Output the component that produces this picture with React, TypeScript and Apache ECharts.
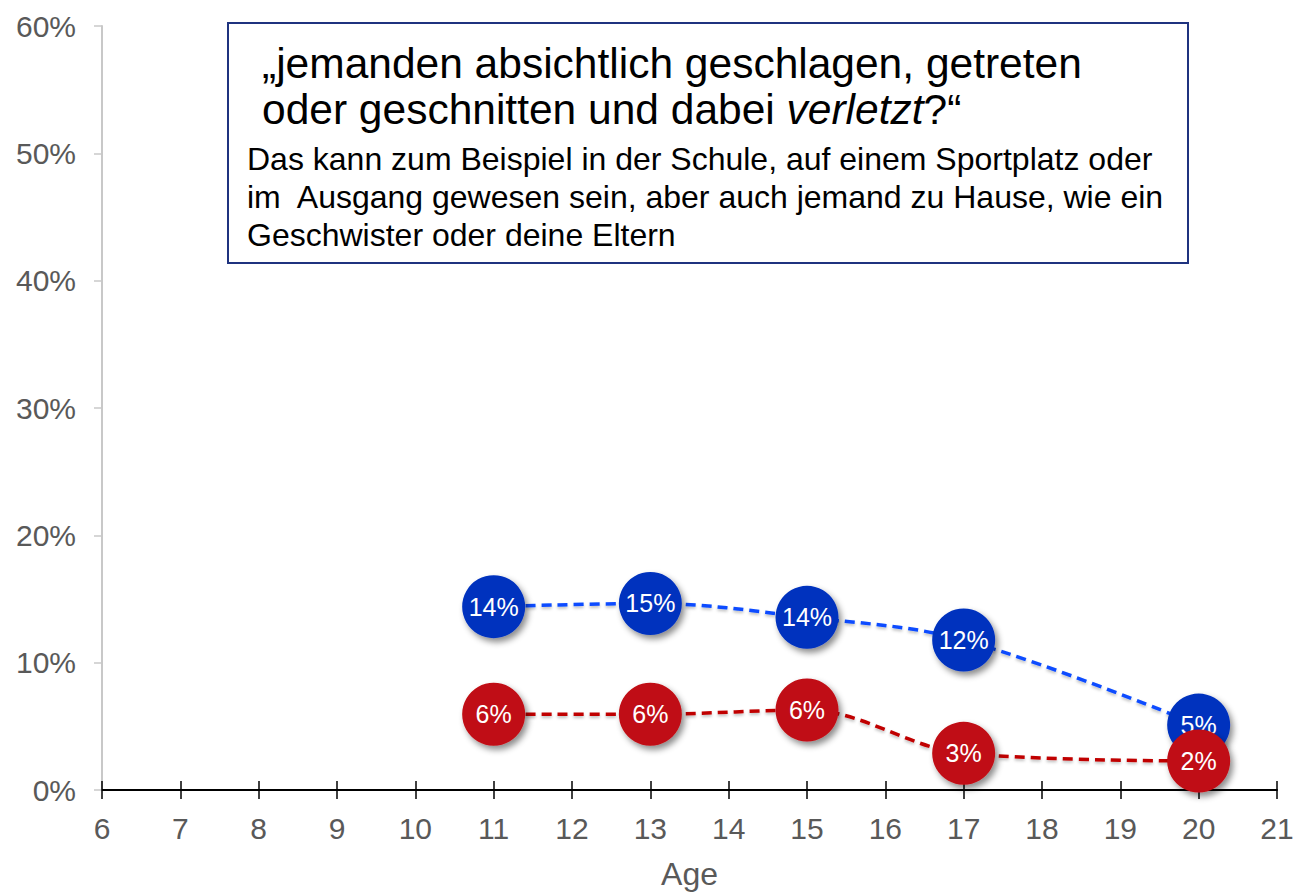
import React, { useEffect, useRef } from "react";
import * as echarts from "echarts";

const ages = [11, 13, 15, 17, 20];
const blueValues = [14.4, 14.65, 13.56, 11.78, 5.1];
const redValues = [5.95, 5.95, 6.28, 2.88, 2.28];
const yTicks = [0, 10, 20, 30, 40, 50, 60];
const titleLine1 = "„jemanden absichtlich geschlagen, getreten";
const titleLine2a = "oder geschnitten und dabei ";
const titleLine2b = "verletzt";
const titleLine2c = "?“";
const bodyLines = [
  "Das kann zum Beispiel in der Schule, auf einem Sportplatz oder",
  "im  Ausgang gewesen sein, aber auch jemand zu Hause, wie ein",
  "Geschwister oder deine Eltern",
];

const FONT = "Liberation Sans, Arial, sans-serif";

export default function App() {
  const ref = useRef<HTMLDivElement>(null);
  useEffect(() => {
    if (!ref.current) return;
    const chart = echarts.init(ref.current, undefined, { renderer: "svg" });
    const mk = (vals: number[]) => ages.map((a, i) => [a, vals[i]]);
    const circleShadow = {
      shadowBlur: 6,
      shadowColor: "rgba(0,0,0,0.45)",
      shadowOffsetX: 3,
      shadowOffsetY: 4,
    };
    const label = {
      show: true,
      position: "inside",
      color: "#ffffff",
      fontSize: 25,
      fontFamily: FONT,
      formatter: (p: any) => Math.round(p.value[1]) + "%",
    };
    const titleSize = 42.5;
    const bodySize = 32;
    chart.setOption({
      animation: false,
      textStyle: { fontFamily: FONT },
      grid: { left: 102, right: 16, top: 26, bottom: 102, outerBoundsMode: "none", containLabel: false },
      xAxis: [
        {
          type: "value",
          min: 6,
          max: 21,
          interval: 1,
          position: "bottom",
          name: "Age",
          nameLocation: "middle",
          nameGap: 68,
          nameTextStyle: { fontSize: 32, color: "#595959", fontFamily: FONT },
          axisLine: { show: true, lineStyle: { color: "#000", width: 2 } },
          axisTick: { show: true, inside: false, length: 9, lineStyle: { color: "#000", width: 1.5 } },
          axisLabel: { fontSize: 30, color: "#595959", margin: 23, fontFamily: FONT },
          splitLine: { show: false },
        },
        {
          type: "value",
          min: 6,
          max: 21,
          interval: 1,
          position: "bottom",
          axisLine: { show: false },
          axisTick: { show: true, inside: true, length: 9, lineStyle: { color: "#000", width: 1.5 } },
          axisLabel: { show: false },
          splitLine: { show: false },
        },
      ],
      yAxis: {
        type: "value",
        min: 0,
        max: 60,
        interval: 10,
        axisLine: { show: true, lineStyle: { color: "#c8c8c8", width: 2 } },
        axisTick: { show: true, length: 8, lineStyle: { color: "#c8c8c8", width: 1.5 } },
        axisLabel: {
          fontSize: 30,
          color: "#595959",
          margin: 26,
          fontFamily: FONT,
          formatter: (v: number) => (yTicks.includes(v) ? v + "%" : ""),
        },
        splitLine: { show: false },
      },
      series: [
        {
          type: "line",
          data: mk(blueValues),
          smooth: 0.35,
          symbol: "circle",
          symbolSize: 63,
          lineStyle: {
            color: "#0a4bff",
            width: 3.5,
            type: [10, 6],
            shadowBlur: 3,
            shadowColor: "rgba(0,0,0,0.25)",
            shadowOffsetY: 2,
          },
          itemStyle: { color: "#0433be", ...circleShadow },
          label,
          z: 2,
        },
        {
          type: "line",
          data: mk(redValues),
          smooth: 0.35,
          symbol: "circle",
          symbolSize: 63,
          lineStyle: {
            color: "#c00000",
            width: 3.5,
            type: [10, 6],
            shadowBlur: 3,
            shadowColor: "rgba(0,0,0,0.25)",
            shadowOffsetY: 2,
          },
          itemStyle: { color: "#c00c13", ...circleShadow },
          label,
          z: 3,
        },
      ],
      graphic: [
        {
          type: "rect",
          shape: { x: 228, y: 23, width: 960, height: 240 },
          style: { fill: "#ffffff", stroke: "#1f337f", lineWidth: 2 },
          z: 10,
        },
        {
          type: "text",
          x: 262,
          y: 63,
          style: {
            text: titleLine1,
            fontSize: titleSize,
            fontFamily: FONT,
            fill: "#000",
            verticalAlign: "middle",
          },
          z: 11,
        },
        {
          type: "text",
          x: 262,
          y: 109,
          style: {
            text: `{a|${titleLine2a}}{i|${titleLine2b}}{a|${titleLine2c}}`,
            fontSize: titleSize,
            fontFamily: FONT,
            fill: "#000",
            verticalAlign: "middle",
            rich: {
              a: { fontSize: titleSize, fontFamily: FONT, fill: "#000" },
              i: { fontSize: titleSize, fontFamily: FONT, fill: "#000", fontStyle: "italic" },
            },
          },
          z: 11,
        },
        ...bodyLines.map((t, i) => ({
          type: "text",
          x: 247,
          y: 159 + i * 38,
          style: {
            text: t,
            fontSize: bodySize,
            fontFamily: FONT,
            fill: "#000",
            verticalAlign: "middle",
          },
          z: 11,
        })),
      ],
    });
    return () => chart.dispose();
  }, []);
  return (
    <div
      ref={ref}
      style={{ position: "fixed", left: 0, top: 0, width: 1293, height: 892, background: "#fff" }}
    />
  );
}
